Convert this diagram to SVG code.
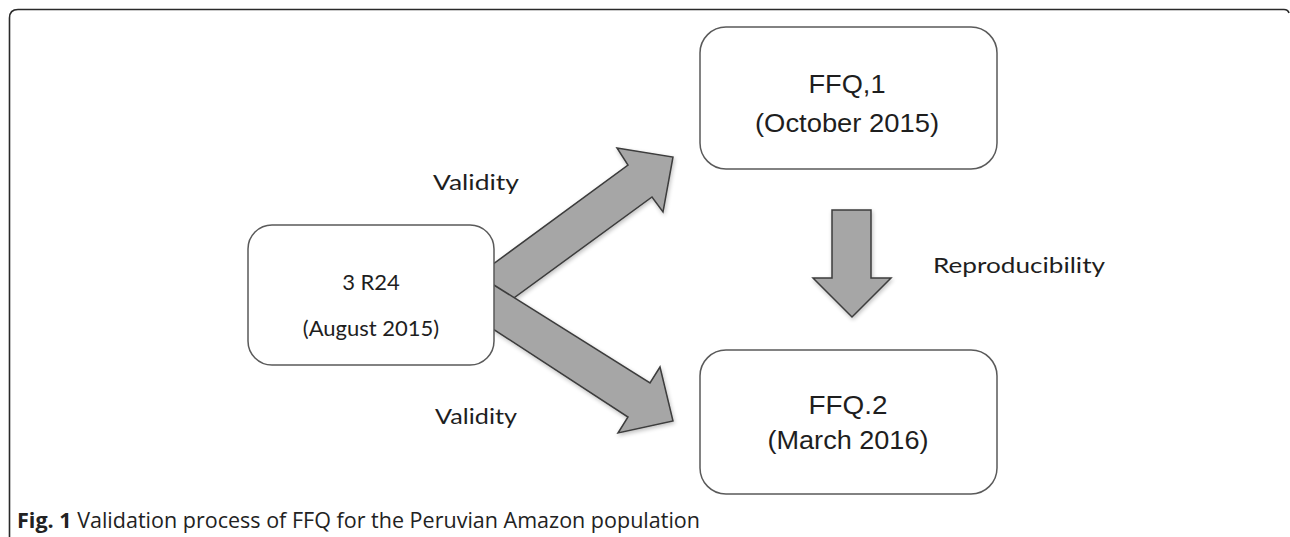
<svg xmlns="http://www.w3.org/2000/svg" width="1290" height="537" viewBox="0 0 1290 537">
<style>
.frame{fill:none;stroke:#2a2a2a;stroke-width:1.6}
.box{fill:#fff;stroke:#5a5a5a;stroke-width:1.5}
.arrow{fill:#a6a6a6;stroke:#3c3c3c;stroke-width:1.5;stroke-linejoin:miter}
.ta{font-family:"Liberation Sans",Arial,sans-serif;font-size:25px;fill:#1e1e1e;text-anchor:middle}
.tc{font-family:Lato,"Open Sans",sans-serif;font-size:22px;fill:#1e1e1e}
.cap{font-family:"Open Sans","Liberation Sans",sans-serif;font-size:21px;fill:#222}
</style>
<defs>
<filter id="sh" x="-10%" y="-10%" width="130%" height="130%">
<feGaussianBlur in="SourceAlpha" stdDeviation="2"/>
<feOffset dx="1" dy="2"/>
<feComponentTransfer><feFuncA type="linear" slope="0.25"/></feComponentTransfer>
<feMerge><feMergeNode/><feMergeNode in="SourceGraphic"/></feMerge>
</filter>
</defs>
<rect width="1290" height="537" fill="#fff"/>
<path class="frame" d="M9.5,537 V18 Q9.5,9.5 18,9.5 H1284 Q1288,9.5 1289,13"/>
<g id="connectors" filter="url(#sh)">
<polygon class="arrow" points="470,281 628,165 617,148 673,157 663,212 652,197 470,330"/>
<polygon class="arrow" points="470,270 650,383 660,367 673,421 618,433 628,417 470,314"/>
<polygon class="arrow" points="832,210 871,210 871,278 891,278 852,317 813,278 832,278"/>
</g>
<g id="node-r24">
<rect class="box" x="248" y="225" width="246" height="140" rx="24"/>
<text class="tc" x="371" y="290" text-anchor="middle" font-size="23">3 R24</text>
<text class="tc" x="371" y="336" text-anchor="middle" font-size="23">(August 2015)</text>
</g>
<g id="node-ffq1">
<rect class="box" x="700" y="27" width="297" height="142" rx="26"/>
<text class="ta" x="847" y="93" textLength="77" lengthAdjust="spacingAndGlyphs">FFQ,1</text>
<text class="ta" x="847" y="132" textLength="184" lengthAdjust="spacingAndGlyphs">(October 2015)</text>
</g>
<g id="node-ffq2">
<rect class="box" x="700" y="350" width="297" height="144" rx="26"/>
<text class="ta" x="848" y="414" textLength="79" lengthAdjust="spacingAndGlyphs">FFQ.2</text>
<text class="ta" x="848" y="449" textLength="161" lengthAdjust="spacingAndGlyphs">(March 2016)</text>
</g>
<g id="labels">
<text class="tc" x="433" y="190" textLength="86" lengthAdjust="spacingAndGlyphs">Validity</text>
<text class="tc" x="435" y="424" textLength="82" lengthAdjust="spacingAndGlyphs">Validity</text>
<text class="tc" x="933" y="273" textLength="172" lengthAdjust="spacingAndGlyphs">Reproducibility</text>
</g>
<text class="cap" x="17" y="528" textLength="683" lengthAdjust="spacingAndGlyphs"><tspan font-weight="bold">Fig. 1</tspan> Validation process of FFQ for the Peruvian Amazon population</text>
</svg>
